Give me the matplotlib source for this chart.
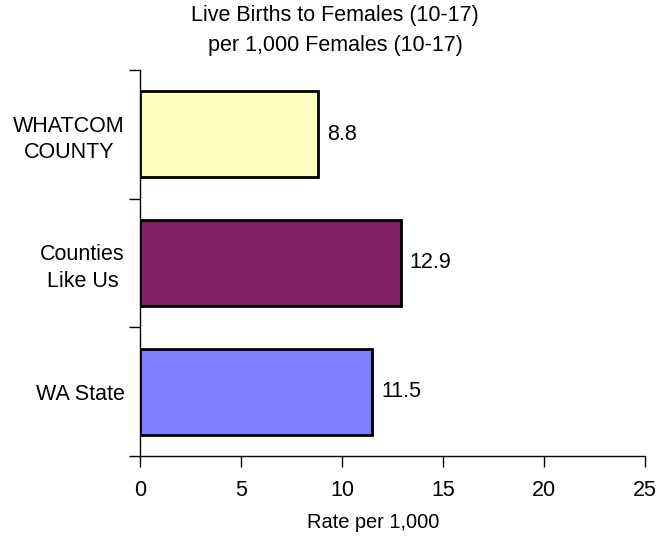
import matplotlib
matplotlib.use("Agg")
import matplotlib.pyplot as plt

categories = ["WHATCOM\nCOUNTY", "Counties\nLike Us", "WA State"]
values = [8.8, 12.9, 11.5]
colors = ["#FFFFC0", "#802060", "#8080FF"]
xticks = [0, 5, 10, 15, 20, 25]

plt.rcParams['font.family'] = ['Liberation Sans', 'DejaVu Sans']
fs = 15.5

fig = plt.figure(figsize=(6.6, 5.38), dpi=100)
ax = fig.add_axes([140/660, 1-456/538, 505/660, 386/538])

ypos = [2, 1, 0]
ax.barh(ypos, values, height=0.67, color=colors, edgecolor="black", linewidth=2, zorder=3)
for y, v in zip(ypos, values):
    ax.text(v + 0.45, y, f"{v}", va="center", ha="left", fontsize=fs)

ax.set_xlim(0, 25)
ax.set_ylim(-0.5, 2.5)
ax.set_xticks(xticks)
ax.set_xticklabels([str(t) for t in xticks], fontsize=fs)
ax.set_yticks([-0.5, 0.5, 1.5, 2.5])
ax.set_yticklabels([])
ax.set_yticks(ypos, minor=True)
ax.set_yticklabels(categories, minor=True, fontsize=fs, ha="right",
                   multialignment="center", linespacing=1.35)
ax.tick_params(axis="y", which="minor", length=0, pad=11)
ax.tick_params(axis="y", which="major", direction="out", length=8, width=1)
ax.tick_params(axis="x", direction="out", length=8, width=1, pad=9)

for s in ["top", "right"]:
    ax.spines[s].set_visible(False)
ax.spines["left"].set_linewidth(1)
ax.spines["bottom"].set_linewidth(1)

fig.text(335/660, 1-15/538, "Live Births to Females (10-17)", ha="center", va="center", fontsize=fs)
fig.text(335/660, 1-45/538, "per 1,000 Females (10-17)", ha="center", va="center", fontsize=fs)
fig.text(373/660, 1-522/538, "Rate per 1,000", ha="center", va="center", fontsize=fs*0.93)

fig.savefig("out.png", dpi=100)
